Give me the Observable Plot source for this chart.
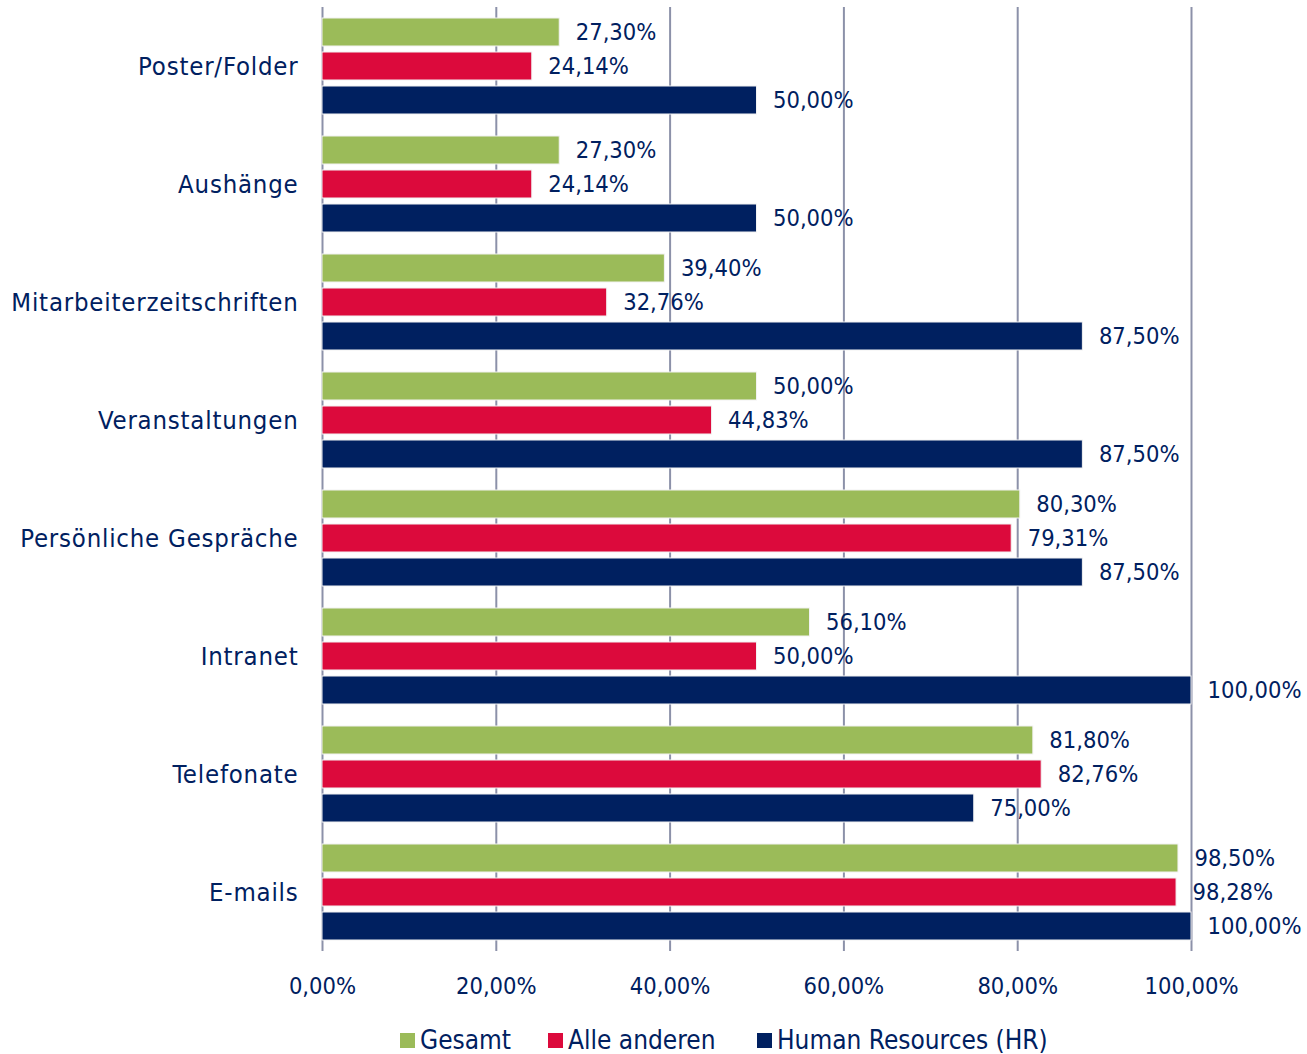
<!DOCTYPE html>
<html>
<head>
<meta charset="utf-8">
<script src="https://cdn.jsdelivr.net/npm/d3@7"></script>
<script src="https://cdn.jsdelivr.net/npm/@observablehq/plot@0.6"></script>
<style>
  body { margin: 0; background: #fff; font-family: "DejaVu Sans Condensed", "DejaVu Sans", sans-serif; color: #002060; }
  g[aria-label="fy-axis tick label"] text { letter-spacing: 0.8px; }
  #legend { position: relative; height: 44px; font-size: 26px; }
  #legend span.item { position: absolute; top: 15px; display: flex; align-items: center; gap: 5px; white-space: nowrap; }
  #legend span.sw { width: 15px; height: 15px; display: inline-block; }
</style>
</head>
<body>
<div id="chart"></div>
<div id="legend"></div>
<script>
const categories = ["Poster/Folder", "Aushänge", "Mitarbeiterzeitschriften", "Veranstaltungen", "Persönliche Gespräche", "Intranet", "Telefonate", "E-mails"];
const series = ["Gesamt", "Alle anderen", "Human Resources (HR)"];
const gesamt = [27.30, 27.30, 39.40, 50.00, 80.30, 56.10, 81.80, 98.50];
const alleAnderen = [24.14, 24.14, 32.76, 44.83, 79.31, 50.00, 82.76, 98.28];
const hr = [50.00, 50.00, 87.50, 87.50, 87.50, 100.00, 75.00, 100.00];
const xTicks = [0, 20, 40, 60, 80, 100];
const colors = ["#9bbb59", "#dc0a3c", "#002060"];
const legendLeft = [400, 548, 757];

const values = [gesamt, alleAnderen, hr];
const data = [];
categories.forEach((c, i) => {
  series.forEach((s, j) => data.push({category: c, series: s, value: values[j][i]}));
});
const fmt = v => v.toFixed(2).replace(".", ",") + "%";

const chart = Plot.plot({
  width: 1307,
  height: 1010,
  marginLeft: 322,
  marginRight: 116,
  marginTop: 6,
  marginBottom: 58,
  style: {fontFamily: '"DejaVu Sans Condensed", "DejaVu Sans", sans-serif', fontSize: "23px", color: "#002060", background: "#fff"},
  x: {domain: [0, 100], axis: null},
  fy: {domain: categories, padding: 0, label: null, axis: null},
  y: {domain: series, paddingInner: 0.18, paddingOuter: 0.3, axis: null},
  color: {domain: series, range: colors},
  marks: [
    Plot.axisFy({anchor: "left", tickSize: 0, tickPadding: 24, label: null, fontSize: 25.5, fill: "#002060"}),
    Plot.ruleX(xTicks, {stroke: "#8c91a9", strokeWidth: 2}),
    Plot.barX(data, {x: "value", y: "series", fy: "category", fill: "series", stroke: "#f2f2f2", strokeWidth: 1}),
    Plot.text(data, {x: "value", y: "series", fy: "category", text: d => fmt(d.value), textAnchor: "start", dx: 16, fill: "#002060", fontSize: 23.5}),
    Plot.axisX({ticks: xTicks, tickFormat: d => d.toFixed(2).replace(".", ",") + "%", tickSize: 0, tickPadding: 26, label: null, fontSize: 23.5, fill: "#002060", facetAnchor: "bottom"})
  ]
});
document.getElementById("chart").appendChild(chart);

const legend = document.getElementById("legend");
series.forEach((s, j) => {
  const item = document.createElement("span");
  item.className = "item";
  item.style.left = legendLeft[j] + "px";
  const sw = document.createElement("span");
  sw.className = "sw";
  sw.style.background = colors[j];
  const t = document.createElement("span");
  t.textContent = s;
  item.appendChild(sw);
  item.appendChild(t);
  legend.appendChild(item);
});
</script>
</body>
</html>
